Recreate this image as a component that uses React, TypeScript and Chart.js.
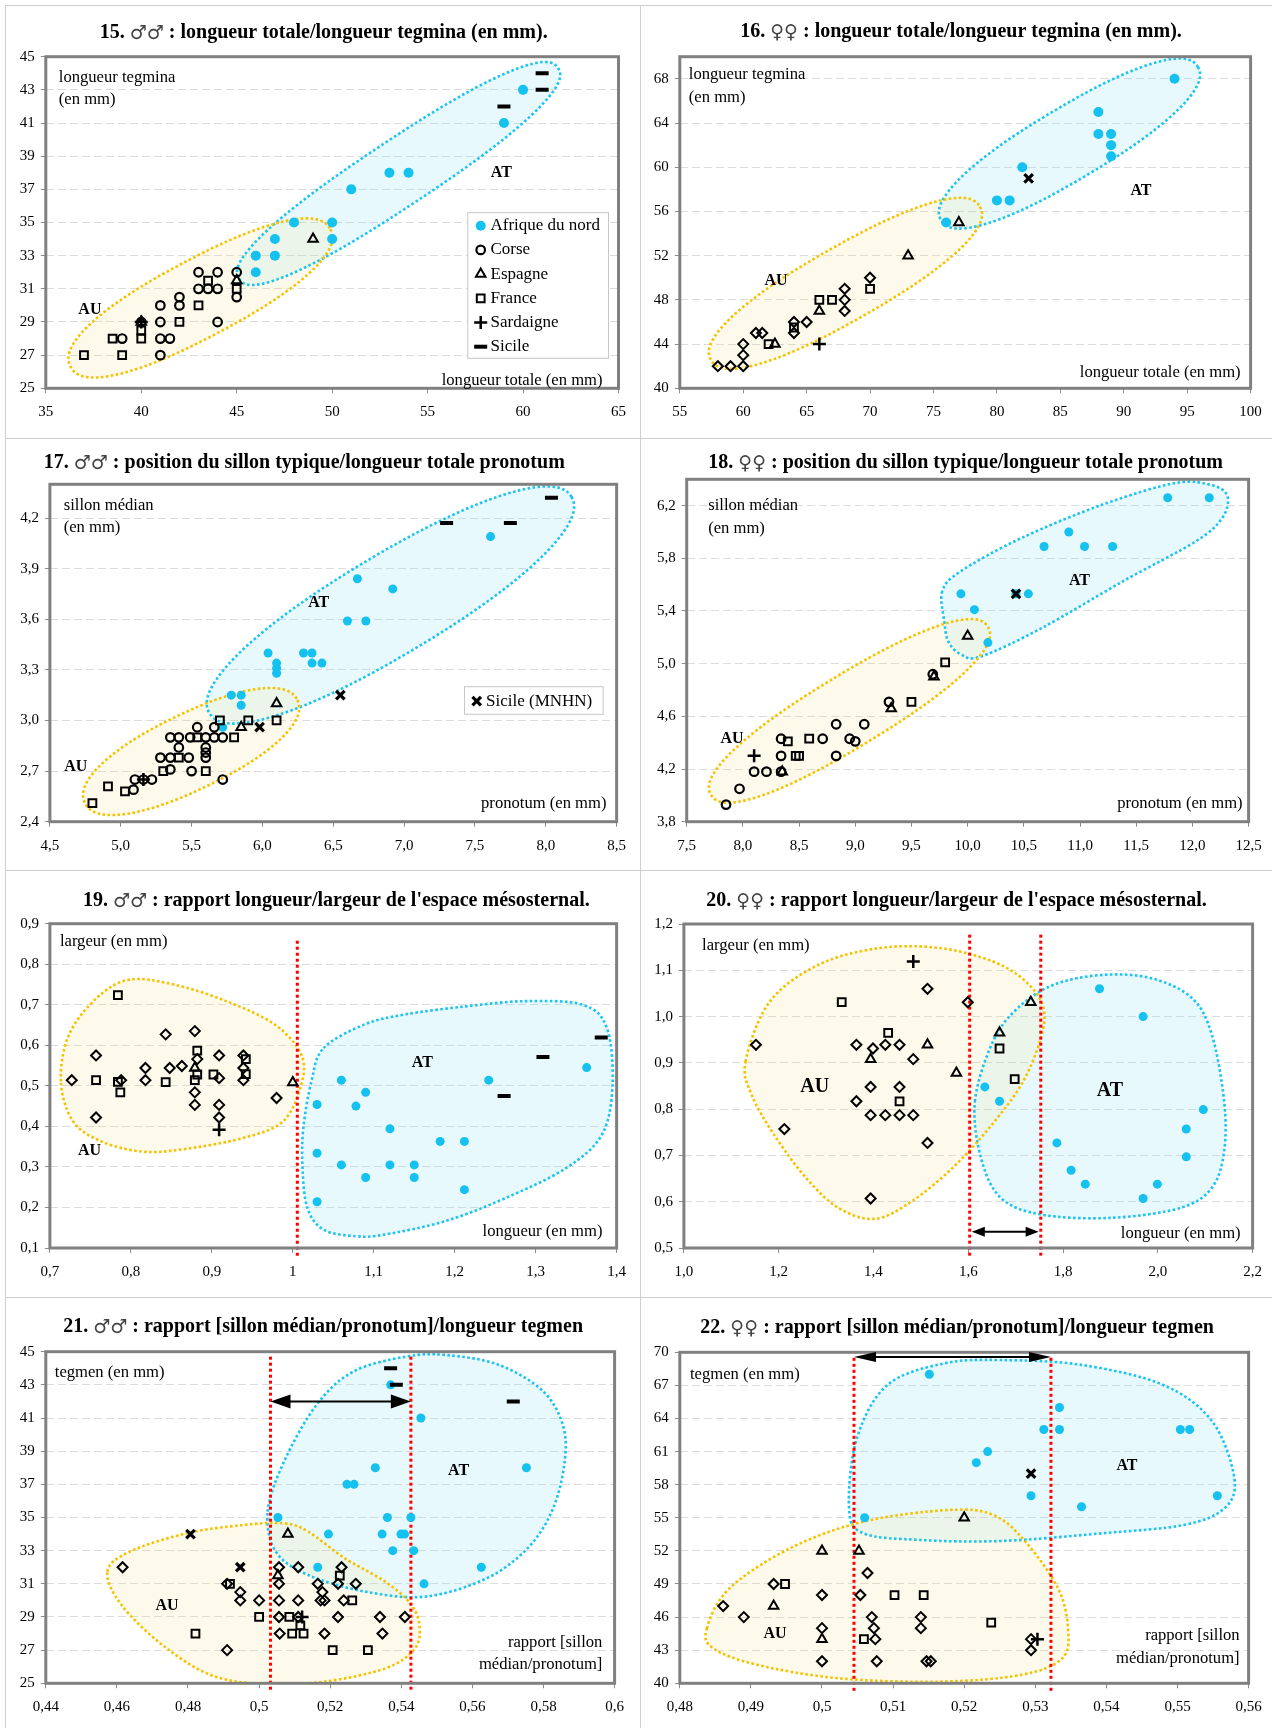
import React, { useEffect, useRef } from "react";
import { Chart, registerables } from "chart.js";
import { drawPoint } from "chart.js/helpers";

Chart.register(...registerables);

type Pt = [number, number];

// ---------------- DATA ----------------
// Panel 15 (males) : longueur totale / longueur tegmina
const afrique15: Pt[] = [[60, 43], [59, 41], [53, 38], [54, 38], [51, 37], [48, 35], [50, 35], [47, 34], [50, 34], [46, 33], [47, 33], [46, 32]];
const corse15: Pt[] = [[43, 32], [44, 32], [45, 32], [43, 31], [43.5, 31], [44, 31], [41, 30], [42, 30], [42, 30.5], [45, 30.5], [41, 29], [44, 29], [41, 28], [41.5, 28], [39, 28], [41, 27], [40, 29]];
const espagne15: Pt[] = [[49, 34], [45, 31.5], [40, 29]];
const france15: Pt[] = [[37, 27], [39, 27], [38.5, 28], [40, 28], [40, 28.5], [42, 29], [43, 30], [43.5, 31.5], [45, 31]];
const sardaigne15: Pt[] = [[40, 29]];
const sicile15: Pt[] = [[59, 42], [61, 43], [61, 44]];
const xTicks15 = [35, 40, 45, 50, 55, 60, 65];
const yTicks15 = [25, 27, 29, 31, 33, 35, 37, 39, 41, 43, 45];

// Panel 16 (females) : longueur totale / longueur tegmina
const afrique16: Pt[] = [[94, 68], [88, 65], [88, 63], [89, 63], [89, 62], [89, 61], [82, 60], [80, 57], [81, 57], [76, 55]];
const mnhn16: Pt[] = [[82.5, 59]];
const espagne16: Pt[] = [[77, 55], [73, 52], [66, 47], [62.5, 44]];
const france16: Pt[] = [[70, 49], [66, 48], [67, 48], [62, 44], [64, 45.5]];
const corse16: Pt[] = [[58, 42], [59, 42], [60, 42], [60, 43], [60, 44], [61, 45], [61.5, 45], [64, 46], [64, 45], [65, 46], [68, 49], [68, 48], [68, 47], [70, 50]];
const sardaigne16: Pt[] = [[66, 44]];
const xTicks16 = [55, 60, 65, 70, 75, 80, 85, 90, 95, 100];
const yTicks16 = [40, 44, 48, 52, 56, 60, 64, 68];

// Panel 17 (males) : sillon / pronotum
const afrique17: Pt[] = [[7.61, 4.09], [6.67, 3.84], [6.92, 3.78], [6.6, 3.59], [6.73, 3.59], [6.04, 3.4], [6.29, 3.4], [6.35, 3.4], [6.35, 3.34], [6.42, 3.34], [6.1, 3.34], [6.1, 3.31], [6.1, 3.28], [5.78, 3.15], [5.85, 3.15], [5.85, 3.09], [5.72, 2.96]];
const sicile17: Pt[] = [[7.3, 4.17], [7.75, 4.17], [8.04, 4.32]];
const mnhn17: Pt[] = [[6.55, 3.15], [5.98, 2.96]];
const espagne17: Pt[] = [[6.1, 3.1], [5.85, 2.96]];
const france17: Pt[] = [[6.1, 3.0], [5.9, 3.0], [5.7, 3.0], [5.8, 2.9], [5.54, 2.9], [5.6, 2.7], [5.3, 2.7], [5.41, 2.78], [5.03, 2.58], [4.91, 2.61], [4.8, 2.51]];
const corse17: Pt[] = [[5.54, 2.96], [5.66, 2.96], [5.35, 2.9], [5.41, 2.9], [5.49, 2.9], [5.6, 2.9], [5.66, 2.9], [5.72, 2.9], [5.41, 2.84], [5.6, 2.84], [5.6, 2.81], [5.6, 2.78], [5.28, 2.78], [5.35, 2.78], [5.48, 2.78], [5.35, 2.71], [5.5, 2.7], [5.72, 2.65], [5.1, 2.65], [5.16, 2.65], [5.22, 2.65], [5.09, 2.59]];
const sardaigne17: Pt[] = [[5.16, 2.65]];
const xTicks17 = [4.5, 5.0, 5.5, 6.0, 6.5, 7.0, 7.5, 8.0, 8.5];
const yTicks17 = [2.4, 2.7, 3.0, 3.3, 3.6, 3.9, 4.2];

// Panel 18 (females) : sillon / pronotum
const afrique18: Pt[] = [[11.78, 6.26], [12.15, 6.26], [10.9, 6.0], [10.68, 5.89], [11.04, 5.89], [11.29, 5.89], [9.94, 5.53], [10.54, 5.53], [10.43, 5.53], [10.06, 5.41], [10.18, 5.16]];
const mnhn18: Pt[] = [[10.43, 5.53]];
const espagne18: Pt[] = [[10.0, 5.21], [9.7, 4.9], [9.32, 4.66], [8.35, 4.18]];
const france18: Pt[] = [[9.8, 5.01], [9.5, 4.71], [8.4, 4.41], [8.59, 4.43], [8.5, 4.3], [8.47, 4.3]];
const corse18: Pt[] = [[9.69, 4.92], [9.3, 4.71], [8.83, 4.54], [9.08, 4.54], [8.34, 4.43], [8.71, 4.43], [8.95, 4.43], [9.0, 4.41], [8.34, 4.3], [8.83, 4.3], [8.1, 4.18], [8.21, 4.18], [8.34, 4.18], [7.97, 4.05], [7.85, 3.93]];
const sardaigne18: Pt[] = [[8.1, 4.3]];
const xTicks18 = [7.5, 8.0, 8.5, 9.0, 9.5, 10.0, 10.5, 11.0, 11.5, 12.0, 12.5];
const yTicks18 = [3.8, 4.2, 4.6, 5.0, 5.4, 5.8, 6.2];

// Panel 19 (males) : espace mésosternal
const afrique19: Pt[] = [[1.06, 0.514], [1.03, 0.454], [1.078, 0.45], [1.09, 0.484], [1.12, 0.394], [1.03, 0.334], [1.06, 0.305], [1.12, 0.305], [1.15, 0.305], [1.09, 0.274], [1.15, 0.274], [1.182, 0.363], [1.212, 0.363], [1.212, 0.244], [1.03, 0.214], [1.242, 0.514], [1.363, 0.545]];
const sicile19: Pt[] = [[1.261, 0.475], [1.309, 0.571], [1.381, 0.619]];
const corse19: Pt[] = [[0.727, 0.514], [0.757, 0.575], [0.757, 0.422], [0.788, 0.514], [0.818, 0.544], [0.818, 0.514], [0.843, 0.627], [0.848, 0.544], [0.863, 0.549], [0.879, 0.635], [0.879, 0.484], [0.879, 0.453], [0.882, 0.566], [0.909, 0.575], [0.909, 0.519], [0.909, 0.453], [0.909, 0.422], [0.939, 0.575], [0.939, 0.544], [0.939, 0.514], [0.98, 0.47]];
const france19: Pt[] = [[0.784, 0.724], [0.757, 0.514], [0.784, 0.51], [0.787, 0.484], [0.843, 0.509], [0.882, 0.587], [0.882, 0.528], [0.879, 0.514], [0.902, 0.528], [0.942, 0.566], [0.942, 0.529]];
const espagne19: Pt[] = [[0.879, 0.544], [1.0, 0.508]];
const sardaigne19: Pt[] = [[0.909, 0.392]];
const xTicks19 = [0.7, 0.8, 0.9, 1.0, 1.1, 1.2, 1.3, 1.4];
const yTicks19 = [0.1, 0.2, 0.3, 0.4, 0.5, 0.6, 0.7, 0.8, 0.9];

// Panel 20 (females) : espace mésosternal
const afrique20: Pt[] = [[1.877, 1.06], [1.969, 1.0], [2.096, 0.799], [2.06, 0.757], [2.06, 0.697], [1.787, 0.727], [1.817, 0.668], [1.847, 0.638], [1.999, 0.638], [1.969, 0.607], [1.635, 0.848], [1.666, 0.817]];
const corse20: Pt[] = [[1.152, 0.939], [1.212, 0.757], [1.364, 0.939], [1.399, 0.931], [1.425, 0.939], [1.455, 0.939], [1.484, 0.908], [1.514, 1.06], [1.599, 1.031], [1.394, 0.848], [1.455, 0.848], [1.364, 0.817], [1.394, 0.787], [1.425, 0.787], [1.455, 0.787], [1.484, 0.787], [1.514, 0.727], [1.394, 0.607]];
const france20: Pt[] = [[1.333, 1.031], [1.431, 0.965], [1.455, 0.817], [1.666, 0.931], [1.698, 0.865]];
const espagne20: Pt[] = [[1.394, 0.908], [1.514, 0.939], [1.575, 0.878], [1.666, 0.965], [1.732, 1.031]];
const sardaigne20: Pt[] = [[1.484, 1.119]];
const xTicks20 = [1.0, 1.2, 1.4, 1.6, 1.8, 2.0, 2.2];
const yTicks20 = [0.5, 0.6, 0.7, 0.8, 0.9, 1.0, 1.1, 1.2];

// Panel 21 (males) : rapport sillon/pronotum vs tegmen
const afrique21: Pt[] = [[0.537, 43], [0.5455, 41], [0.5752, 38], [0.5327, 38], [0.5247, 37], [0.5267, 37], [0.5053, 35], [0.5361, 35], [0.5427, 35], [0.5195, 34], [0.5346, 34], [0.5399, 34], [0.5409, 34], [0.5376, 33], [0.5435, 33], [0.5165, 32], [0.5625, 32], [0.5464, 31]];
const sicile21: Pt[] = [[0.537, 44], [0.5386, 43], [0.5715, 42]];
const mnhn21: Pt[] = [[0.4807, 34], [0.4947, 32]];
const espagne21: Pt[] = [[0.5081, 34], [0.5053, 31.5]];
const france21: Pt[] = [[0.4918, 31], [0.5227, 31.5], [0.5262, 30], [0.5, 29], [0.5085, 29], [0.5116, 28.5], [0.4821, 28], [0.5093, 28], [0.5125, 28], [0.5207, 27], [0.5306, 27]];
const corse21: Pt[] = [[0.4616, 32], [0.491, 31], [0.4947, 30.5], [0.4947, 30], [0.5, 30], [0.5056, 32], [0.5056, 31], [0.5056, 30], [0.5056, 29], [0.5058, 28], [0.511, 32], [0.511, 30], [0.5165, 31], [0.5178, 30.5], [0.5173, 30], [0.5184, 30], [0.5232, 32], [0.5222, 31], [0.5238, 30], [0.5272, 31], [0.5222, 29], [0.5184, 28], [0.534, 29], [0.5347, 28], [0.541, 29], [0.491, 27], [0.511, 29]];
const sardaigne21: Pt[] = [[0.5121, 29]];
const xTicks21 = [0.44, 0.46, 0.48, 0.5, 0.52, 0.54, 0.56, 0.58, 0.6];
const yTicks21 = [25, 27, 29, 31, 33, 35, 37, 39, 41, 43, 45];

// Panel 22 (females) : rapport sillon/pronotum vs tegmen
const afrique22: Pt[] = [[0.5151, 68], [0.5334, 65], [0.5312, 63], [0.5334, 63], [0.5504, 63], [0.5517, 63], [0.5233, 61], [0.5217, 60], [0.5294, 57], [0.5365, 56], [0.5556, 57], [0.506, 55]];
const mnhn22: Pt[] = [[0.5294, 59]];
const espagne22: Pt[] = [[0.52, 55], [0.5, 52], [0.5052, 52], [0.4932, 47], [0.5, 44]];
const france22: Pt[] = [[0.4948, 49], [0.5102, 48], [0.5143, 48], [0.5238, 45.5], [0.5059, 44]];
const corse22: Pt[] = [[0.4861, 47], [0.489, 46], [0.4932, 49], [0.5, 48], [0.5, 45], [0.5, 42], [0.5064, 50], [0.5054, 48], [0.507, 46], [0.5073, 45], [0.5075, 44], [0.5077, 42], [0.5139, 46], [0.5139, 45], [0.5147, 42], [0.5153, 42], [0.5294, 44], [0.5294, 43]];
const sardaigne22: Pt[] = [[0.5303, 44]];
const xTicks22 = [0.48, 0.49, 0.5, 0.51, 0.52, 0.53, 0.54, 0.55, 0.56];
const yTicks22 = [40, 43, 46, 49, 52, 55, 58, 61, 64, 67, 70];

// ---------------- STYLES ----------------
const SERIF = '"Liberation Serif", "Times New Roman", "DejaVu Serif", serif';
const SYMBOL_FONT = '"DejaVu Sans", "Noto Sans", sans-serif';
type Kind = "afrique" | "corse" | "corseD" | "espagne" | "france" | "sardaigne" | "sicile" | "mnhn";
const MARK: Record<Kind, { label: string; style: string; r: number; fill: string; stroke: string; bw: number }> = {
  afrique: { label: "Afrique du nord", style: "circle", r: 5, fill: "#14c1ef", stroke: "#14c1ef", bw: 0 },
  corse: { label: "Corse", style: "circle", r: 4.3, fill: "rgba(255,255,255,0)", stroke: "#000", bw: 2.2 },
  corseD: { label: "Corse", style: "rectRot", r: 5, fill: "rgba(255,255,255,0)", stroke: "#000", bw: 2 },
  espagne: { label: "Espagne", style: "triangle", r: 5.5, fill: "rgba(255,255,255,0)", stroke: "#000", bw: 2 },
  france: { label: "France", style: "rect", r: 5.5, fill: "rgba(255,255,255,0)", stroke: "#000", bw: 2 },
  sardaigne: { label: "Sardaigne", style: "cross", r: 6.5, fill: "rgba(0,0,0,0)", stroke: "#000", bw: 2.5 },
  sicile: { label: "Sicile", style: "line", r: 6.5, fill: "rgba(0,0,0,0)", stroke: "#000", bw: 4 },
  mnhn: { label: "Sicile (MNHN)", style: "crossRot", r: 6, fill: "rgba(0,0,0,0)", stroke: "#000", bw: 3.2 },
};
const FILL = { AT: "rgba(120,220,245,0.17)", AU: "rgba(250,222,110,0.14)" };
const STROKE = { AT: "#1cc4f0", AU: "#f6c200" };

type Fmt = "int" | "fixed1" | "trim";
interface Axis { min: number; max: number; ticks: number[]; fmt: Fmt }
interface Shape { color: "AT" | "AU"; oval?: { p1: Pt; p2: Pt; b: number; n: number }; blob?: Pt[] }
interface Caption { text: string; corner: "tl" | "br"; dx: number; dy: number }
interface Tag { text: string; at: Pt; size: number }
interface Legend { box: [number, number, number, number]; kinds: Kind[]; firstY: number; rowH: number; markerX: number; textX: number }
interface Panel {
  id: number;
  cell: [number, number, number, number];
  plot: [number, number, number, number];
  title: [string, string, string];
  titlePos: [number, number];
  x: Axis;
  y: Axis;
  dot: number;
  series: { kind: Kind; data: Pt[] }[];
  shapes: Shape[];
  redLines?: { xs: number[]; top: number };
  arrow?: { x1: number; x2: number; y: number; head: number; hw: number };
  tags: Tag[];
  captions: Caption[];
  legend?: Legend;
}

const PANELS: Panel[] = [
  {
    id: 15, cell: [0, 0, 636, 435], plot: [45.8, 56.7, 620.7, 388.3],
    title: ["15. ", "♂♂", " : longueur totale/longueur tegmina (en mm)."], titlePos: [323.7, 33],
    x: { min: 35, max: 65, ticks: xTicks15, fmt: "int" }, y: { min: 25, max: 45, ticks: yTicks15, fmt: "int" }, dot: 5,
    series: [
      { kind: "afrique", data: afrique15 }, { kind: "corse", data: corse15 }, { kind: "espagne", data: espagne15 },
      { kind: "france", data: france15 }, { kind: "sardaigne", data: sardaigne15 }, { kind: "sicile", data: sicile15 },
    ],
    shapes: [
      { color: "AT", oval: { p1: [45.13, 31.59], p2: [61.83, 44.32], b: 33, n: 2.4 } },
      { color: "AU", oval: { p1: [36.3, 26.3], p2: [49.9, 34.6], b: 39, n: 2.3 } },
    ],
    tags: [{ text: "AT", at: [58.86, 37.97], size: 16 }, { text: "AU", at: [37.31, 29.76], size: 16 }],
    captions: [
      { text: "longueur tegmina", corner: "tl", dx: 13, dy: 20.6 },
      { text: "(en mm)", corner: "tl", dx: 13, dy: 42.6 },
      { text: "longueur totale (en mm)", corner: "br", dx: -16, dy: -7.6 },
    ],
    legend: { box: [467.8, 212.7, 140.7, 145.6], kinds: ["afrique", "corse", "espagne", "france", "sardaigne", "sicile"], firstY: 225.7, rowH: 24.2, markerX: 480.7, textX: 490.5 },
  },
  {
    id: 16, cell: [636, 0, 636, 435], plot: [679.8, 56.7, 1250.6, 388.3],
    title: ["16. ", "♀♀", " : longueur totale/longueur tegmina (en mm)."], titlePos: [961, 31.7],
    x: { min: 55, max: 100, ticks: xTicks16, fmt: "int" }, y: { min: 40, max: 70, ticks: yTicks16, fmt: "int" }, dot: 5,
    series: [
      { kind: "afrique", data: afrique16 }, { kind: "mnhn", data: mnhn16 }, { kind: "espagne", data: espagne16 },
      { kind: "france", data: france16 }, { kind: "corseD", data: corse16 }, { kind: "sardaigne", data: sardaigne16 },
    ],
    shapes: [
      { color: "AT", oval: { p1: [75.6, 55.2], p2: [95.84, 69.08], b: 36, n: 2.3 } },
      { color: "AU", oval: { p1: [57.46, 42.56], p2: [78.66, 56.43], b: 37, n: 2.3 } },
    ],
    tags: [{ text: "AT", at: [91.36, 57.87], size: 16 }, { text: "AU", at: [62.58, 49.7], size: 16 }],
    captions: [
      { text: "longueur tegmina", corner: "tl", dx: 9, dy: 18.3 },
      { text: "(en mm)", corner: "tl", dx: 9, dy: 40.6 },
      { text: "longueur totale (en mm)", corner: "br", dx: -10, dy: -15.6 },
    ],
  },
  {
    id: 17, cell: [0, 435, 636, 433], plot: [49.9, 484.3, 618.7, 821.7],
    title: ["17. ", "♂♂", " : position du sillon typique/longueur totale pronotum"], titlePos: [304.3, 463.3],
    x: { min: 4.5, max: 8.5, ticks: xTicks17, fmt: "fixed1" }, y: { min: 2.4, max: 4.4, ticks: yTicks17, fmt: "fixed1" }, dot: 4.5,
    series: [
      { kind: "afrique", data: afrique17 }, { kind: "sicile", data: sicile17 }, { kind: "mnhn", data: mnhn17 },
      { kind: "espagne", data: espagne17 }, { kind: "france", data: france17 }, { kind: "corse", data: corse17 },
      { kind: "sardaigne", data: sardaigne17 },
    ],
    shapes: [
      { color: "AT", oval: { p1: [5.626, 3.043], p2: [8.181, 4.326], b: 50, n: 2.2 } },
      { color: "AU", oval: { p1: [4.747, 2.511], p2: [6.247, 3.121], b: 38, n: 2.2 } },
    ],
    tags: [{ text: "AT", at: [6.397, 3.695], size: 16 }, { text: "AU", at: [4.683, 2.726], size: 16 }],
    captions: [
      { text: "sillon médian", corner: "tl", dx: 13.8, dy: 21.4 },
      { text: "(en mm)", corner: "tl", dx: 13.8, dy: 43.4 },
      { text: "pronotum (en mm)", corner: "br", dx: -10.2, dy: -17.7 },
    ],
    legend: { box: [464.5, 686.7, 138.7, 27.6], kinds: ["mnhn"], firstY: 701.2, rowH: 0, markerX: 476.7, textX: 486 },
  },
  {
    id: 18, cell: [636, 435, 636, 433], plot: [686.7, 479.3, 1248.6, 821.7],
    title: ["18. ", "♀♀", " : position du sillon typique/longueur totale pronotum"], titlePos: [965.6, 463.3],
    x: { min: 7.5, max: 12.5, ticks: xTicks18, fmt: "fixed1" }, y: { min: 3.8, max: 6.4, ticks: yTicks18, fmt: "fixed1" }, dot: 4.5,
    series: [
      { kind: "afrique", data: afrique18 }, { kind: "mnhn", data: mnhn18 }, { kind: "espagne", data: espagne18 },
      { kind: "france", data: france18 }, { kind: "corse", data: corse18 }, { kind: "sardaigne", data: sardaigne18 },
    ],
    shapes: [
      { color: "AT", blob: [[9.774, 5.549], [9.792, 5.321], [9.828, 5.168], [9.937, 5.072], [10.117, 5.054], [10.659, 5.27], [11.381, 5.625], [12.031, 5.929], [12.265, 6.106], [12.312, 6.271], [12.175, 6.354], [11.85, 6.372], [11.2, 6.208], [10.478, 5.954], [9.937, 5.701]] },
      { color: "AU", oval: { p1: [7.717, 4.003], p2: [10.18, 5.28], b: 36, n: 2.3 } },
    ],
    tags: [{ text: "AT", at: [10.995, 5.632], size: 16 }, { text: "AU", at: [7.904, 4.428], size: 16 }],
    captions: [
      { text: "sillon médian", corner: "tl", dx: 21.5, dy: 26.4 },
      { text: "(en mm)", corner: "tl", dx: 21.5, dy: 49 },
      { text: "pronotum (en mm)", corner: "br", dx: -6, dy: -18.4 },
    ],
  },
  {
    id: 19, cell: [0, 868, 636, 427], plot: [49.9, 923.7, 618.7, 1248],
    title: ["19. ", "♂♂", " : rapport longueur/largeur de l'espace mésosternal."], titlePos: [336.3, 901.3],
    x: { min: 0.7, max: 1.4, ticks: xTicks19, fmt: "trim" }, y: { min: 0.1, max: 0.9, ticks: yTicks19, fmt: "trim" }, dot: 4.5,
    series: [
      { kind: "afrique", data: afrique19 }, { kind: "sicile", data: sicile19 }, { kind: "corseD", data: corse19 },
      { kind: "france", data: france19 }, { kind: "espagne", data: espagne19 }, { kind: "sardaigne", data: sardaigne19 },
    ],
    shapes: [
      { color: "AT", blob: [[1.038, 0.593], [1.088, 0.651], [1.138, 0.676], [1.213, 0.696], [1.288, 0.709], [1.358, 0.7], [1.388, 0.643], [1.395, 0.503], [1.382, 0.38], [1.3375, 0.297], [1.2625, 0.223], [1.188, 0.166], [1.113, 0.133], [1.078, 0.129], [1.038, 0.145], [1.018, 0.199], [1.012, 0.297], [1.013, 0.396], [1.023, 0.511]] },
      { color: "AU", blob: [[0.7135, 0.511], [0.7235, 0.626], [0.758, 0.717], [0.798, 0.762], [0.853, 0.75], [0.918, 0.709], [0.978, 0.651], [1.0105, 0.577], [1.0105, 0.503], [0.988, 0.4125], [0.938, 0.371], [0.863, 0.343], [0.8135, 0.338], [0.7635, 0.363], [0.7285, 0.4125]] },
    ],
    redLines: { xs: [1.0056], top: 0.858 },
    tags: [{ text: "AT", at: [1.16, 0.556], size: 16 }, { text: "AU", at: [0.749, 0.34], size: 16 }],
    captions: [
      { text: "largeur (en mm)", corner: "tl", dx: 10, dy: 18.3 },
      { text: "longueur (en mm)", corner: "br", dx: -14.2, dy: -16 },
    ],
  },
  {
    id: 20, cell: [636, 868, 636, 427], plot: [683.9, 924, 1252.6, 1248],
    title: ["20. ", "♀♀", " : rapport longueur/largeur de l'espace mésosternal."], titlePos: [956.5, 901.3],
    x: { min: 1.0, max: 2.2, ticks: xTicks20, fmt: "fixed1" }, y: { min: 0.5, max: 1.2, ticks: yTicks20, fmt: "fixed1" }, dot: 4.5,
    series: [
      { kind: "afrique", data: afrique20 }, { kind: "corseD", data: corse20 }, { kind: "france", data: france20 },
      { kind: "espagne", data: espagne20 }, { kind: "sardaigne", data: sardaigne20 },
    ],
    shapes: [
      { color: "AT", blob: [[1.614, 0.817], [1.652, 0.946], [1.704, 1.018], [1.781, 1.069], [1.883, 1.09], [1.986, 1.083], [2.072, 1.04], [2.114, 0.961], [2.14, 0.817], [2.14, 0.709], [2.114, 0.63], [2.046, 0.586], [1.9, 0.565], [1.755, 0.572], [1.669, 0.608], [1.627, 0.694]] },
      { color: "AU", blob: [[1.13, 0.903], [1.181, 1.032], [1.284, 1.112], [1.4126, 1.148], [1.541, 1.148], [1.652, 1.119], [1.721, 1.076], [1.759, 1.018], [1.751, 0.946], [1.712, 0.853], [1.644, 0.759], [1.567, 0.673], [1.481, 0.601], [1.404, 0.563], [1.327, 0.586], [1.258, 0.651], [1.19, 0.745], [1.143, 0.831]] },
    ],
    redLines: { xs: [1.603, 1.753], top: 1.177 },
    arrow: { x1: 1.6075, x2: 1.7485, y: 0.535, head: 13, hw: 5 },
    tags: [{ text: "AT", at: [1.899, 0.84], size: 20 }, { text: "AU", at: [1.276, 0.848], size: 20 }],
    captions: [
      { text: "largeur (en mm)", corner: "tl", dx: 18.2, dy: 21.3 },
      { text: "longueur (en mm)", corner: "br", dx: -12, dy: -14 },
    ],
  },
  {
    id: 21, cell: [0, 1295, 636, 433], plot: [45.8, 1351.7, 614.6, 1683.3],
    title: ["21. ", "♂♂", " : rapport [sillon médian/pronotum]/longueur tegmen"], titlePos: [323.1, 1327.3],
    x: { min: 0.44, max: 0.6, ticks: xTicks21, fmt: "trim" }, y: { min: 25, max: 45, ticks: yTicks21, fmt: "int" }, dot: 4.5,
    series: [
      { kind: "afrique", data: afrique21 }, { kind: "sicile", data: sicile21 }, { kind: "mnhn", data: mnhn21 },
      { kind: "espagne", data: espagne21 }, { kind: "france", data: france21 }, { kind: "corseD", data: corse21 },
      { kind: "sardaigne", data: sardaigne21 },
    ],
    shapes: [
      { color: "AT", blob: [[0.5024, 35.35], [0.507, 38.37], [0.5161, 41.78], [0.5264, 43.79], [0.5412, 44.7], [0.5526, 44.8], [0.5675, 44.2], [0.58, 42.59], [0.5857, 40.38], [0.5857, 37.96], [0.5823, 35.35], [0.5755, 33.14], [0.564, 31.33], [0.5469, 30.23], [0.5298, 30.53], [0.5138, 31.53], [0.5047, 32.94]] },
      { color: "AU", blob: [[0.4573, 31.73], [0.4636, 32.94], [0.4796, 34.05], [0.4956, 34.55], [0.507, 34.65], [0.5138, 34.15], [0.5241, 32.54], [0.5355, 31.13], [0.5429, 29.72], [0.5452, 28.32], [0.5435, 27.01], [0.5355, 25.9], [0.5184, 25.1], [0.5013, 24.95], [0.4864, 25.5], [0.4728, 27.31], [0.4613, 29.72]] },
    ],
    redLines: { xs: [0.5032, 0.5427], top: 44.7 },
    arrow: { x1: 0.5032, x2: 0.5427, y: 42, head: 20, hw: 7 },
    tags: [{ text: "AT", at: [0.5561, 37.82], size: 16 }, { text: "AU", at: [0.4741, 29.66], size: 16 }],
    captions: [
      { text: "tegmen (en mm)", corner: "tl", dx: 9, dy: 20.6 },
      { text: "rapport [sillon", corner: "br", dx: -12.2, dy: -41 },
      { text: "médian/pronotum]", corner: "br", dx: -12.2, dy: -19 },
    ],
  },
  {
    id: 22, cell: [636, 1295, 636, 433], plot: [679.8, 1352.3, 1248.6, 1683.3],
    title: ["22. ", "♀♀", " : rapport [sillon médian/pronotum]/longueur tegmen"], titlePos: [957.1, 1328.3],
    x: { min: 0.48, max: 0.56, ticks: xTicks22, fmt: "trim" }, y: { min: 40, max: 70, ticks: yTicks22, fmt: "int" }, dot: 4.5,
    series: [
      { kind: "afrique", data: afrique22 }, { kind: "mnhn", data: mnhn22 }, { kind: "espagne", data: espagne22 },
      { kind: "france", data: france22 }, { kind: "corseD", data: corse22 }, { kind: "sardaigne", data: sardaigne22 },
    ],
    shapes: [
      { color: "AT", blob: [[0.5038, 55.86], [0.5049, 62.2], [0.5092, 67.04], [0.5172, 69.0], [0.5252, 69.3], [0.5366, 68.85], [0.548, 67.04], [0.5549, 63.72], [0.558, 58.58], [0.5566, 55.86], [0.5509, 54.35], [0.5395, 53.6], [0.5252, 52.9], [0.5138, 52.99], [0.5058, 53.6]] },
      { color: "AU", blob: [[0.4838, 44.98], [0.487, 48.61], [0.4955, 52.24], [0.5058, 54.65], [0.5178, 55.71], [0.5241, 55.26], [0.5286, 52.84], [0.5332, 48.61], [0.5346, 44.98], [0.5338, 42.27], [0.528, 40.76], [0.5166, 40.15], [0.5024, 40.45], [0.491, 41.66], [0.4847, 43.17]] },
    ],
    redLines: { xs: [0.5045, 0.5322], top: 69.5 },
    arrow: { x1: 0.5045, x2: 0.5322, y: 69.58, head: 22, hw: 5 },
    tags: [{ text: "AT", at: [0.5429, 59.73], size: 16 }, { text: "AU", at: [0.4934, 44.47], size: 16 }],
    captions: [
      { text: "tegmen (en mm)", corner: "tl", dx: 10.2, dy: 22.7 },
      { text: "rapport [sillon", corner: "br", dx: -9, dy: -47.6 },
      { text: "médian/pronotum]", corner: "br", dx: -9, dy: -25 },
    ],
  },
];

// ---------------- HELPERS ----------------
function fmt(v: number, f: Fmt): string {
  if (f === "int") return String(Math.round(v));
  if (f === "fixed1") return v.toFixed(1).replace(".", ",");
  return String(Number(v.toFixed(4))).replace(".", ",");
}

function tracePath(ctx: CanvasRenderingContext2D, s: Shape, X: (v: number) => number, Y: (v: number) => number) {
  ctx.beginPath();
  if (s.oval) {
    const x1 = X(s.oval.p1[0]), y1 = Y(s.oval.p1[1]);
    const x2 = X(s.oval.p2[0]), y2 = Y(s.oval.p2[1]);
    const a = Math.hypot(x2 - x1, y2 - y1) / 2;
    const b = s.oval.b;
    const ang = Math.atan2(y2 - y1, x2 - x1);
    const mx = (x1 + x2) / 2, my = (y1 + y2) / 2;
    const e = 2 / s.oval.n;
    const ca = Math.cos(ang), sa = Math.sin(ang);
    const steps = 160;
    for (let i = 0; i <= steps; i++) {
      const t = (i / steps) * Math.PI * 2;
      const c = Math.cos(t), sn = Math.sin(t);
      const u = a * Math.sign(c) * Math.pow(Math.abs(c), e);
      const w = b * Math.sign(sn) * Math.pow(Math.abs(sn), e);
      const px = mx + u * ca - w * sa;
      const py = my + u * sa + w * ca;
      if (i === 0) ctx.moveTo(px, py);
      else ctx.lineTo(px, py);
    }
    ctx.closePath();
  } else if (s.blob) {
    const pts = s.blob.map(([a, b]) => [X(a), Y(b)]);
    const n = pts.length;
    ctx.moveTo(pts[0][0], pts[0][1]);
    for (let i = 0; i < n; i++) {
      const p0 = pts[(i - 1 + n) % n], p1 = pts[i], p2 = pts[(i + 1) % n], p3 = pts[(i + 2) % n];
      ctx.bezierCurveTo(
        p1[0] + (p2[0] - p0[0]) / 6, p1[1] + (p2[1] - p0[1]) / 6,
        p2[0] - (p3[0] - p1[0]) / 6, p2[1] - (p3[1] - p1[1]) / 6,
        p2[0], p2[1]
      );
    }
    ctx.closePath();
  }
}

function drawMarker(ctx: CanvasRenderingContext2D, kind: Kind, x: number, y: number, dot: number) {
  const m = MARK[kind];
  ctx.save();
  ctx.fillStyle = m.fill;
  ctx.strokeStyle = m.stroke;
  ctx.lineWidth = m.bw;
  drawPoint(ctx, { pointStyle: m.style as any, radius: kind === "afrique" ? dot : m.r, borderWidth: m.bw, rotation: 0 } as any, x, y);
  ctx.restore();
}

function drawTitle(ctx: CanvasRenderingContext2D, parts: [string, string, string], x: number, y: number) {
  const fonts = [`bold 20px ${SERIF}`, `19px ${SYMBOL_FONT}`, `bold 20px ${SERIF}`];
  const widths = parts.map((t, i) => {
    ctx.font = fonts[i];
    return ctx.measureText(t).width;
  });
  let cur = x - widths.reduce((s, w) => s + w, 0) / 2;
  ctx.textAlign = "left";
  ctx.textBaseline = "middle";
  ctx.fillStyle = "#000";
  parts.forEach((t, i) => {
    ctx.font = fonts[i];
    ctx.fillStyle = i === 1 ? "#444" : "#000";
    ctx.fillText(t, cur, y + (i === 1 ? 1 : 0));
    cur += widths[i];
  });
}

function makeDecor(p: Panel) {
  const [cx, cy] = p.cell;
  return {
    id: "decor",
    beforeDatasetsDraw(chart: any) {
      const { ctx, chartArea: ca, scales } = chart;
      const X = (v: number) => scales.x.getPixelForValue(v);
      const Y = (v: number) => scales.y.getPixelForValue(v);
      ctx.save();
      ctx.beginPath();
      ctx.rect(ca.left, ca.top, ca.right - ca.left, ca.bottom - ca.top);
      ctx.clip();
      for (const s of p.shapes) {
        tracePath(ctx, s, X, Y);
        ctx.fillStyle = FILL[s.color];
        ctx.fill();
      }
      for (const s of p.shapes) {
        tracePath(ctx, s, X, Y);
        ctx.setLineDash([2.6, 2.4]);
        ctx.lineWidth = 2.6;
        ctx.strokeStyle = STROKE[s.color];
        ctx.stroke();
      }
      ctx.restore();
      if (p.redLines) {
        ctx.save();
        ctx.setLineDash([3, 3]);
        ctx.lineWidth = 3;
        ctx.strokeStyle = "#ff0000";
        for (const xv of p.redLines.xs) {
          const px = X(xv);
          ctx.beginPath();
          ctx.moveTo(px, Y(p.redLines.top));
          ctx.lineTo(px, ca.bottom + 9);
          ctx.stroke();
        }
        ctx.restore();
      }
    },
    afterDatasetsDraw(chart: any) {
      const { ctx, chartArea: ca, scales } = chart;
      const X = (v: number) => scales.x.getPixelForValue(v);
      const Y = (v: number) => scales.y.getPixelForValue(v);
      ctx.save();
      // plot frame
      ctx.strokeStyle = "#808080";
      ctx.lineWidth = 3;
      ctx.strokeRect(ca.left, ca.top, ca.right - ca.left, ca.bottom - ca.top);
      // arrow
      if (p.arrow) {
        const a = p.arrow;
        const x1 = X(a.x1), x2 = X(a.x2), y = Y(a.y);
        ctx.strokeStyle = "#000";
        ctx.fillStyle = "#000";
        ctx.lineWidth = 2;
        ctx.beginPath();
        ctx.moveTo(x1 + a.head - 2, y);
        ctx.lineTo(x2 - a.head + 2, y);
        ctx.stroke();
        ctx.beginPath();
        ctx.moveTo(x1, y); ctx.lineTo(x1 + a.head, y - a.hw); ctx.lineTo(x1 + a.head, y + a.hw); ctx.closePath();
        ctx.fill();
        ctx.beginPath();
        ctx.moveTo(x2, y); ctx.lineTo(x2 - a.head, y - a.hw); ctx.lineTo(x2 - a.head, y + a.hw); ctx.closePath();
        ctx.fill();
      }
      // group tags
      ctx.fillStyle = "#000";
      ctx.textAlign = "center";
      ctx.textBaseline = "middle";
      for (const t of p.tags) {
        ctx.font = `bold ${t.size}px ${SERIF}`;
        ctx.fillText(t.text, X(t.at[0]), Y(t.at[1]));
      }
      // axis captions inside the plot
      ctx.font = `16.6px ${SERIF}`;
      for (const c of p.captions) {
        if (c.corner === "tl") {
          ctx.textAlign = "left";
          ctx.fillText(c.text, ca.left + c.dx, ca.top + c.dy);
        } else {
          ctx.textAlign = "right";
          ctx.fillText(c.text, ca.right + c.dx, ca.bottom + c.dy);
        }
      }
      // legend
      if (p.legend) {
        const L = p.legend;
        ctx.fillStyle = "#fff";
        ctx.fillRect(L.box[0] - cx, L.box[1] - cy, L.box[2], L.box[3]);
        ctx.strokeStyle = "#c8c8c8";
        ctx.lineWidth = 1;
        ctx.strokeRect(L.box[0] - cx, L.box[1] - cy, L.box[2], L.box[3]);
        L.kinds.forEach((k, i) => {
          const yy = L.firstY - cy + i * L.rowH;
          drawMarker(ctx, k, L.markerX - cx, yy, 5);
          ctx.fillStyle = "#000";
          ctx.font = `17px ${SERIF}`;
          ctx.textAlign = "left";
          ctx.textBaseline = "middle";
          ctx.fillText(MARK[k].label, L.textX - cx, yy);
        });
      }
      // title
      drawTitle(ctx, p.title, p.titlePos[0] - cx, p.titlePos[1] - cy);
      ctx.restore();
    },
  };
}

function axisOpts(a: Axis, isX: boolean) {
  return {
    type: "linear",
    position: isX ? "bottom" : "left",
    min: a.min,
    max: a.max,
    afterBuildTicks: (s: any) => {
      s.ticks = a.ticks.map((v) => ({ value: v }));
    },
    afterFit: (s: any) => {
      if (isX) s.height = 40;
      else s.width = 40;
    },
    ticks: {
      callback: (v: any) => fmt(Number(v), a.fmt),
      font: { family: SERIF, size: 15 },
      color: "#000",
      padding: isX ? 10 : 6,
      autoSkip: false,
      maxRotation: 0,
      minRotation: 0,
    },
    grid: isX
      ? { drawOnChartArea: false, drawTicks: true, tickLength: 5, color: "#8c8c8c", lineWidth: 1 }
      : { color: "#dcdcdc", lineWidth: 1, drawTicks: true, tickLength: 5, tickColor: "#8c8c8c", tickBorderDash: [] },
    border: { display: false, dash: isX ? [] : [8, 4] },
  };
}

function buildConfig(p: Panel): any {
  const [cx, cy, cw, ch] = p.cell;
  const [l, t, r, b] = p.plot;
  const n = p.series.length;
  return {
    type: "scatter",
    data: {
      datasets: p.series.map((s, i) => {
        const m = MARK[s.kind];
        const rad = s.kind === "afrique" ? p.dot : m.r;
        return {
          label: m.label,
          data: s.data.map(([x, y]) => ({ x, y })),
          order: n - i,
          showLine: false,
          pointStyle: m.style,
          pointRadius: rad,
          pointHoverRadius: rad,
          pointBackgroundColor: m.fill,
          pointBorderColor: m.stroke,
          pointBorderWidth: m.bw,
          pointHoverBorderWidth: m.bw,
        };
      }),
    },
    options: {
      responsive: false,
      maintainAspectRatio: false,
      animation: false,
      devicePixelRatio: 1,
      events: [],
      layout: { padding: { left: l - cx - 40, top: t - cy, right: cx + cw - r, bottom: cy + ch - b - 40 } },
      plugins: { legend: { display: false }, tooltip: { enabled: false }, title: { display: false } },
      scales: { x: axisOpts(p.x, true), y: axisOpts(p.y, false) },
    },
    plugins: [makeDecor(p)],
  };
}

function PanelChart({ p }: { p: Panel }) {
  const ref = useRef<HTMLCanvasElement>(null);
  useEffect(() => {
    if (!ref.current) return;
    const chart = new Chart(ref.current, buildConfig(p));
    return () => chart.destroy();
  }, [p]);
  const [cx, cy, cw, ch] = p.cell;
  return (
    <canvas
      ref={ref}
      width={cw}
      height={ch}
      style={{ position: "absolute", left: cx, top: cy, width: cw, height: ch }}
    />
  );
}

const LINE = "#cfcfcf";

export default function App() {
  return (
    <div style={{ position: "absolute", left: 0, top: 0, width: 1272, height: 1728, background: "#fff", overflow: "hidden" }}>
      {PANELS.map((p) => (
        <PanelChart key={p.id} p={p} />
      ))}
      <div style={{ position: "absolute", left: 5, top: 5, width: 1, height: 1723, background: LINE }} />
      <div style={{ position: "absolute", left: 640, top: 5, width: 1, height: 1723, background: LINE }} />
      <div style={{ position: "absolute", left: 5, top: 5, width: 1267, height: 1, background: LINE }} />
      <div style={{ position: "absolute", left: 5, top: 438, width: 1267, height: 1, background: LINE }} />
      <div style={{ position: "absolute", left: 5, top: 870, width: 1267, height: 1, background: LINE }} />
      <div style={{ position: "absolute", left: 5, top: 1297, width: 1267, height: 1, background: LINE }} />
    </div>
  );
}
